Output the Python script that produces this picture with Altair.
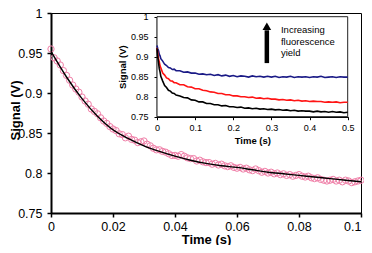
import altair as alt
import pandas as pd

FONT = "Liberation Sans"

# ---------------- main panel data ----------------
main_t = [round(i * 0.001, 3) for i in range(101)]
main_signal = [
    0.955, 0.944, 0.940, 0.935, 0.928, 0.922, 0.916, 0.910, 0.905, 0.901,
    0.895, 0.890, 0.886, 0.880, 0.877, 0.874, 0.869, 0.865, 0.862, 0.858,
    0.855, 0.853, 0.849, 0.848, 0.844, 0.846, 0.842, 0.841, 0.838, 0.839,
    0.840, 0.836, 0.834, 0.831, 0.829, 0.829, 0.827, 0.826, 0.824, 0.822,
    0.822, 0.821, 0.823, 0.821, 0.819, 0.818, 0.818, 0.815, 0.816, 0.814,
    0.813, 0.813, 0.811, 0.812, 0.810, 0.811, 0.809, 0.808, 0.809, 0.807,
    0.806, 0.807, 0.805, 0.806, 0.804, 0.803, 0.805, 0.803, 0.801, 0.802,
    0.800, 0.801, 0.799, 0.800, 0.798, 0.799, 0.797, 0.798, 0.796, 0.797,
    0.798, 0.796, 0.795, 0.796, 0.794, 0.793, 0.794, 0.792, 0.791, 0.790,
    0.791, 0.792, 0.790, 0.791, 0.789, 0.791, 0.790, 0.788, 0.789, 0.790,
    0.791,
]
fit_t = [0, 0.005, 0.01, 0.015, 0.02, 0.025, 0.03, 0.035, 0.04, 0.045, 0.05,
         0.055, 0.06, 0.065, 0.07, 0.075, 0.08, 0.085, 0.09, 0.095, 0.1]
fit_signal = [0.952, 0.920, 0.893, 0.871, 0.854, 0.843, 0.834, 0.827, 0.821, 0.816, 0.812,
              0.809, 0.807, 0.804, 0.801, 0.799, 0.797, 0.795, 0.793, 0.791, 0.789]

# ---------------- inset data ----------------
inset_t = [0, 0.002, 0.004, 0.006, 0.008, 0.01, 0.015, 0.02, 0.025, 0.03, 0.035, 0.04, 0.045, 0.05,
           0.06, 0.07, 0.08, 0.09, 0.10, 0.11, 0.12, 0.13, 0.14, 0.15, 0.16, 0.17, 0.18, 0.19,
           0.20, 0.21, 0.22, 0.23, 0.24, 0.25, 0.26, 0.27, 0.28, 0.29, 0.30, 0.31, 0.32, 0.33,
           0.34, 0.35, 0.36, 0.37, 0.38, 0.39, 0.40, 0.41, 0.42, 0.43, 0.44, 0.45, 0.46, 0.47,
           0.48, 0.49, 0.50]
blue_signal = [0.928, 0.920, 0.915, 0.906, 0.902, 0.895, 0.889, 0.881, 0.878, 0.873, 0.872, 0.868, 0.869, 0.865,
               0.865, 0.861, 0.862, 0.859, 0.859, 0.856, 0.857, 0.855, 0.856, 0.853, 0.855, 0.852, 0.854, 0.851,
               0.853, 0.850, 0.852, 0.851, 0.849, 0.852, 0.850, 0.851, 0.849, 0.851, 0.849, 0.851, 0.848, 0.850,
               0.849, 0.851, 0.848, 0.850, 0.849, 0.850, 0.848, 0.850, 0.849, 0.851, 0.848, 0.849, 0.850, 0.848,
               0.850, 0.849, 0.849]
red_signal = [0.922, 0.909, 0.895, 0.887, 0.877, 0.872, 0.859, 0.854, 0.847, 0.845, 0.840, 0.839, 0.835, 0.835,
              0.830, 0.830, 0.825, 0.824, 0.820, 0.820, 0.816, 0.815, 0.812, 0.811, 0.808, 0.808, 0.805, 0.805,
              0.802, 0.802, 0.800, 0.800, 0.798, 0.799, 0.796, 0.797, 0.795, 0.796, 0.794, 0.794, 0.792, 0.793,
              0.791, 0.792, 0.790, 0.791, 0.789, 0.790, 0.788, 0.789, 0.788, 0.788, 0.786, 0.787, 0.786, 0.787,
              0.785, 0.786, 0.786]
black_signal = [0.921, 0.899, 0.885, 0.870, 0.862, 0.851, 0.839, 0.828, 0.823, 0.816, 0.814, 0.809, 0.808, 0.804,
                0.802, 0.798, 0.797, 0.792, 0.791, 0.787, 0.787, 0.783, 0.783, 0.780, 0.780, 0.777, 0.778, 0.775,
                0.775, 0.773, 0.774, 0.771, 0.772, 0.770, 0.771, 0.769, 0.770, 0.768, 0.769, 0.767, 0.768, 0.766,
                0.767, 0.765, 0.766, 0.764, 0.765, 0.764, 0.764, 0.762, 0.764, 0.762, 0.763, 0.761, 0.763, 0.761,
                0.762, 0.760, 0.761]
series_names = ["blue", "red", "black"]
series_colors = ["#1a1a86", "#ff1414", "#000000"]
note_lines = ["Increasing", "fluorescence", "yield"]

main_x_ticks = [0, 0.02, 0.04, 0.06, 0.08, 0.1]
y_ticks = [0.75, 0.8, 0.85, 0.9, 0.95, 1]
inset_x_ticks = [0, 0.1, 0.2, 0.3, 0.4, 0.5]

# ---------------- tables ----------------
main_df = pd.DataFrame({"t": main_t, "v": main_signal})
fit_df = pd.DataFrame({"t": fit_t, "v": fit_signal})
rows = []
for name, vals in zip(series_names, [blue_signal, red_signal, black_signal]):
    for t, v in zip(inset_t, vals):
        rows.append({"t": t, "v": v, "s": name})
inset_df = pd.DataFrame(rows)
frame_df = pd.DataFrame({"t": [0], "t2": [0.5], "v": [0.75], "v2": [1.0]})
arrow_df = pd.DataFrame({"t": [0.288], "v": [0.884], "v2": [0.966]})
head_df = pd.DataFrame({"t": [0.288], "v": [0.976]})
note_df = pd.DataFrame({"t": [0.325] * 3, "v": [0.9665, 0.9375, 0.910], "label": note_lines})

# ---------------- main panel ----------------
W, H = 310, 200
main_axis_style = dict(labelFont=FONT, labelFontSize=12.5, labelColor="black",
                       tickColor="black", tickSize=4, tickWidth=1.5,
                       domainColor="black", domainWidth=2, grid=False, labelFlush=False,
                       titleFont=FONT, titleFontSize=13, titleFontWeight="bold",
                       titleColor="black", format="~g")

xm = alt.X("t:Q", scale=alt.Scale(domain=[0, 0.1], nice=False, zero=False),
           axis=alt.Axis(values=main_x_ticks, title="Time (s)", orient="bottom",
                         labelPadding=3, titleY=26, titleBaseline="middle",
                         labelAlign={"condition": {"test": "datum.value >= 0.099", "value": "right"},
                                     "value": "center"},
                         **main_axis_style))
ym = alt.Y("v:Q", scale=alt.Scale(domain=[0.75, 1.0], nice=False, zero=False),
           axis=alt.Axis(values=y_ticks, title="Signal (V)", orient="left",
                         labelPadding=5, titleAngle=270, titleX=-42, titleY=97,
                         titleBaseline="top", titleAlign="center", **main_axis_style))

circles = alt.Chart(main_df).mark_point(shape="circle", filled=False, size=40,
                                        color="#f07fa8", strokeWidth=1, opacity=1).encode(x=xm, y=ym)
fit = alt.Chart(fit_df).mark_line(color="black", strokeWidth=1.4, interpolate="monotone").encode(x=xm, y=ym)
main = alt.layer(circles, fit)

# ---------------- inset ----------------
inset_axis_style = dict(labelFont=FONT, labelFontSize=9, labelColor="black",
                        tickColor="black", tickSize=3, tickWidth=1,
                        domainColor="black", domainWidth=1.5, grid=False, labelFlush=False,
                        titleFont=FONT, titleFontSize=9.5, titleFontWeight="bold",
                        titleColor="black", format="~g")
xi = alt.X("t:Q", scale=alt.Scale(domain=[0, 0.5], range=[106, 296.7], nice=False, zero=False),
           axis=alt.Axis(values=inset_x_ticks, title="Time (s)", orient="bottom", offset=-96.3,
                         labelPadding=4, titleY=23.3, titleBaseline="middle", **inset_axis_style))
yi = alt.Y("v:Q", scale=alt.Scale(domain=[0.75, 1.0], range=[103.7, 3.7], nice=False, zero=False),
           axis=alt.Axis(values=y_ticks, title="Signal (V)", orient="left", offset=-106,
                         labelPadding=6, titleAngle=270, titleX=-35, titleY=53.7,
                         titleBaseline="middle", titleAlign="center", **inset_axis_style))

frame = alt.Chart(frame_df).mark_rect(fill="white", stroke="#222222", strokeWidth=1).encode(
    x=xi, x2="t2:Q", y=yi, y2="v2:Q")
lines = alt.Chart(inset_df).mark_line(strokeWidth=1.6).encode(
    x=xi, y=yi,
    color=alt.Color("s:N", scale=alt.Scale(domain=series_names, range=series_colors), legend=None))
shaft = alt.Chart(arrow_df).mark_rule(color="black", strokeWidth=4.5).encode(x=xi, y=yi, y2="v2:Q")
head = alt.Chart(head_df).mark_point(shape="triangle-up", filled=True, size=75, color="black",
                                     opacity=1).encode(x=xi, y=yi)
notes = alt.Chart(note_df).mark_text(align="left", baseline="middle", font=FONT, fontSize=9.5,
                                     color="black").encode(x=xi, y=yi, text="label:N")
inset = alt.layer(frame, lines, shaft, head, notes)

chart = alt.layer(main, inset).resolve_scale(x="independent", y="independent").properties(
    width=W, height=H, autosize=alt.AutoSizeParams(type="none"),
    padding={"left": 43, "top": 5, "right": 3, "bottom": 32},
    background="white",
).configure_view(stroke="black", strokeWidth=1)

chart.save("out.html", embed_options={"renderer": "svg", "actions": False})
